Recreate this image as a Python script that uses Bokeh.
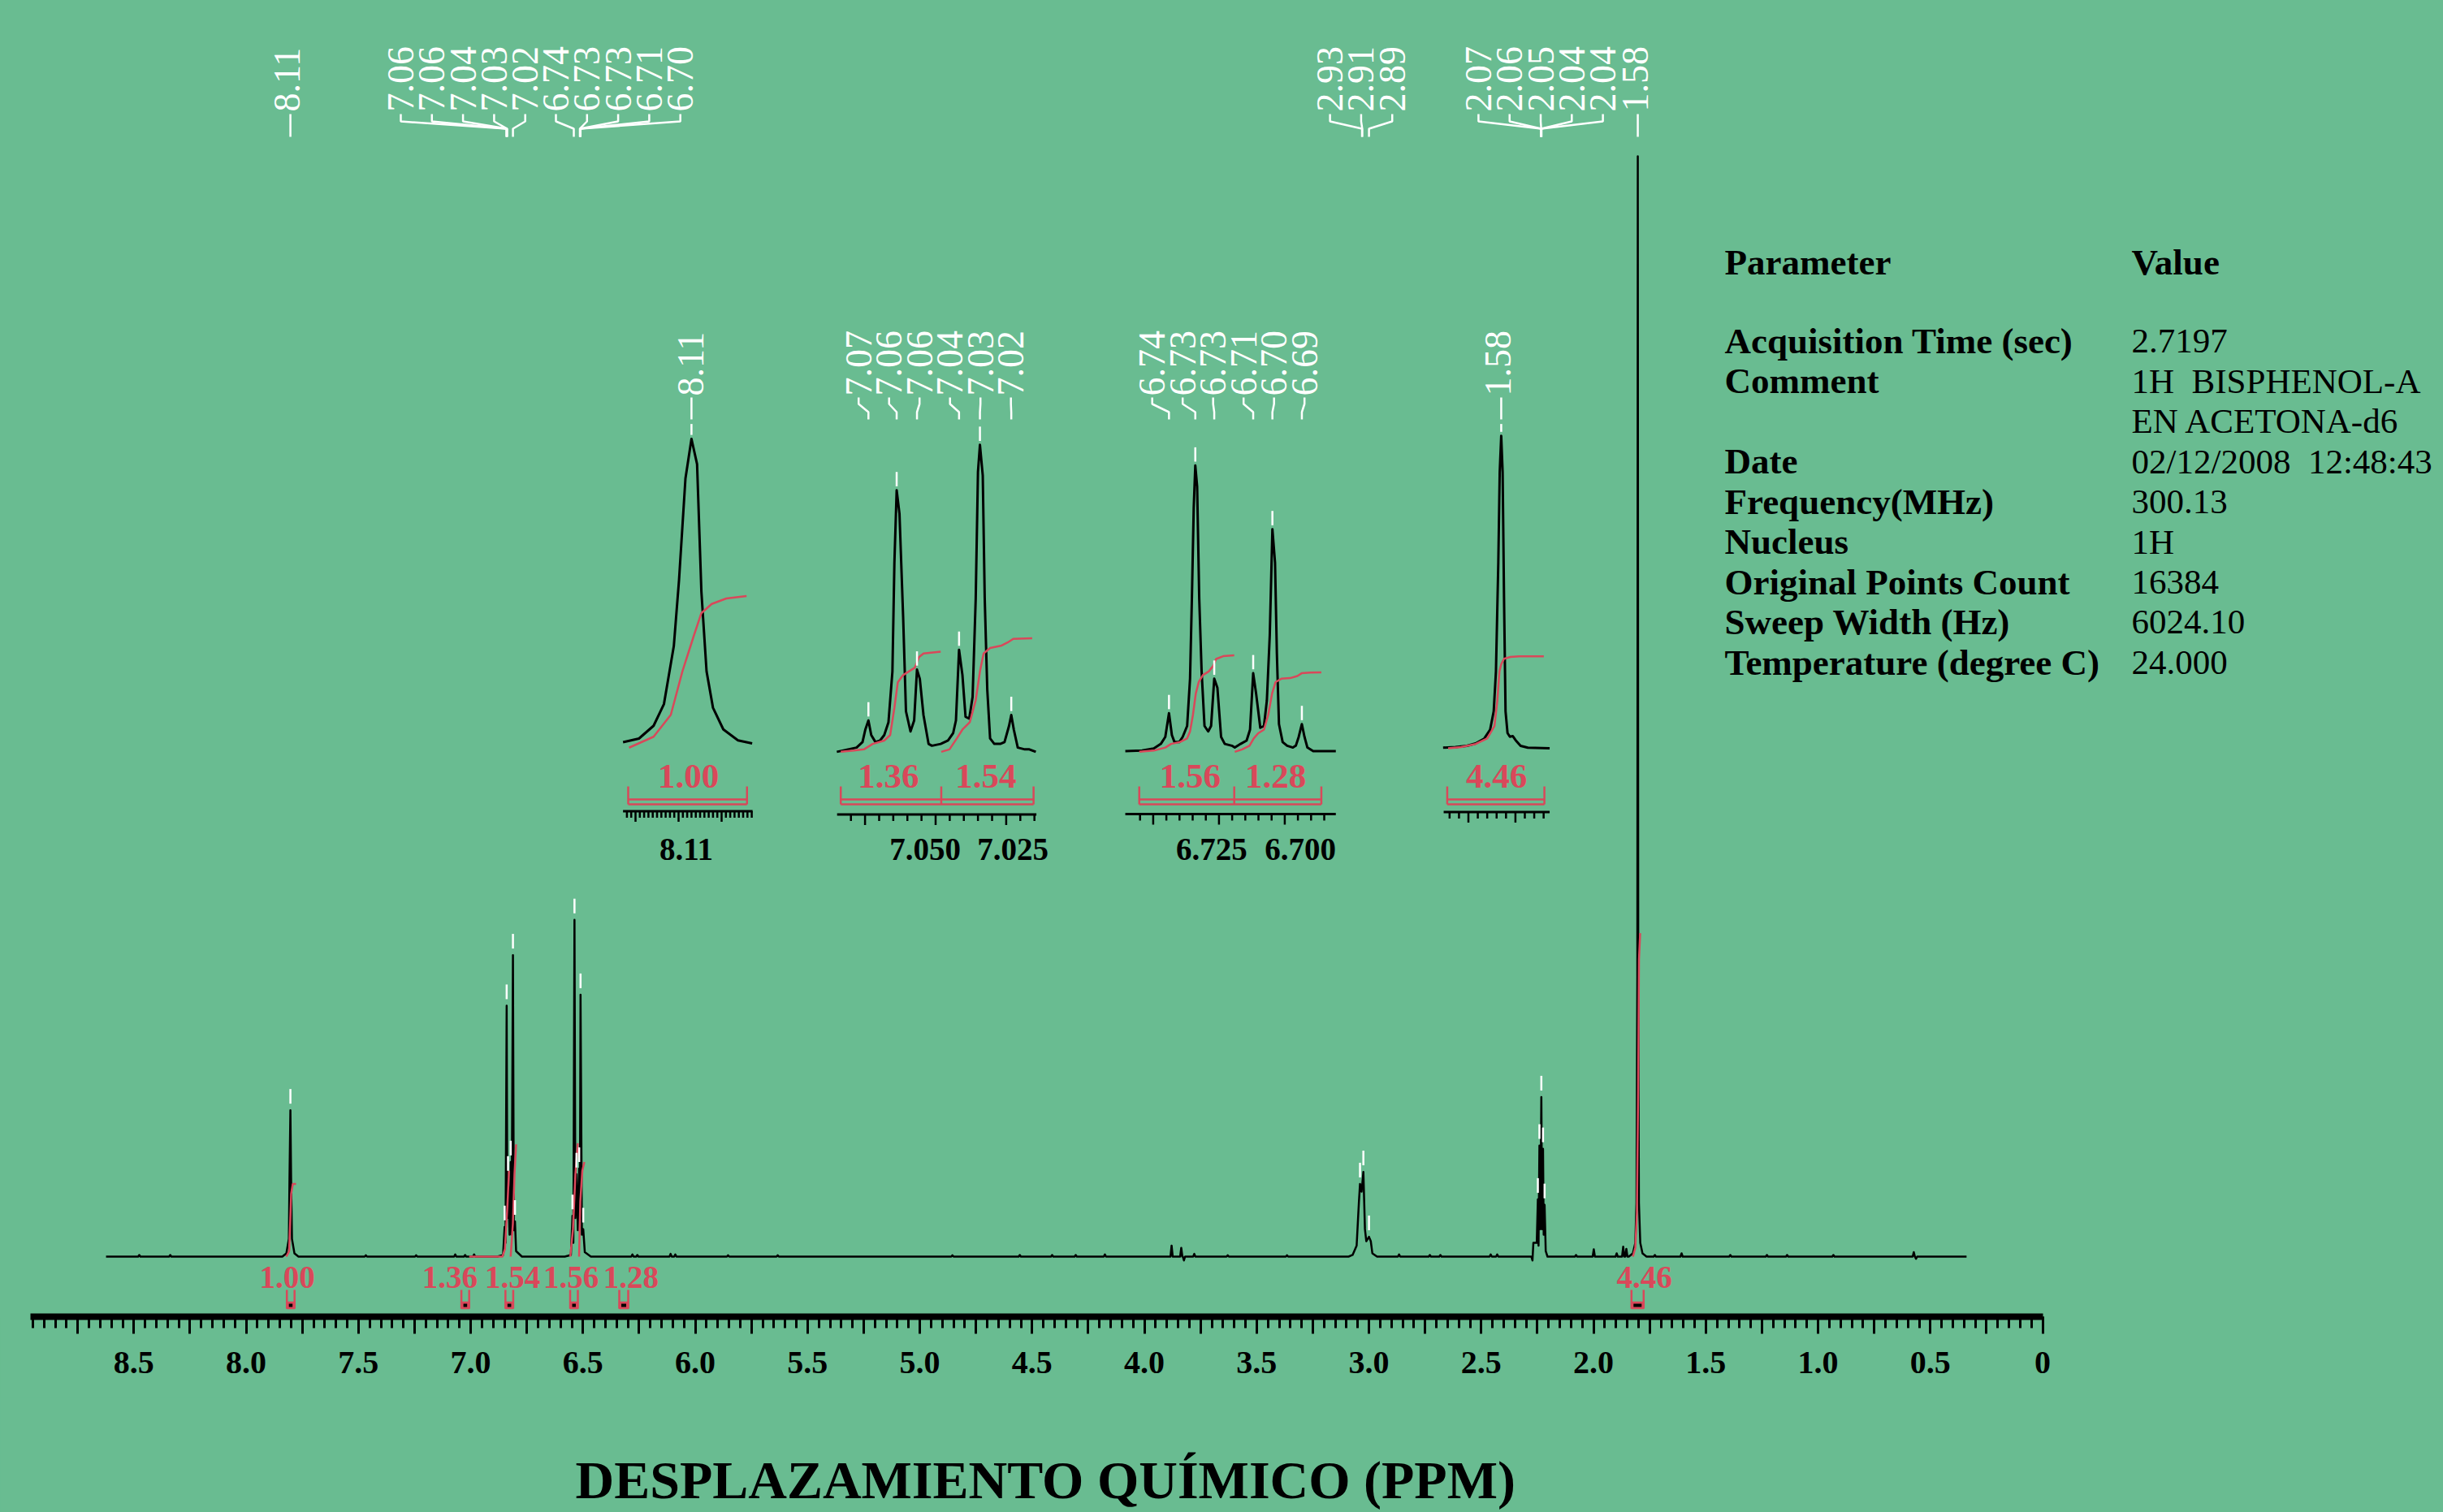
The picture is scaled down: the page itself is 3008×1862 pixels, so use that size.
import numpy as np
from math import pi
from bokeh.plotting import figure
from bokeh.layouts import column
from bokeh.models import Range1d, FixedTicker, CustomJSTickFormatter
from bokeh.core.properties import value
from bokeh.embed import file_html
from bokeh.resources import INLINE

# ---------------- colours & fonts ----------------
BG = "#69bc91"
RED = "#d9485a"
WHITE = "#ffffff"
INK = "#000000"
SERIF = "Liberation Serif"

# ---------------- main spectrum (ppm on the drawn axis, relative intensity %) ----------------
spectrum_start, spectrum_end = 8.624, 0.339
grp_811_ppm = [7.839, 7.821, 7.810, 7.807, 7.803, 7.800, 7.796, 7.785, 7.767]
grp_811_int = [0, 0.3, 1.6, 7.2, 13.3, 7.2, 1.6, 0.3, 0]
grp_706_ppm = [6.881, 6.856, 6.849, 6.845, 6.840, 6.837, 6.834, 6.827, 6.822, 6.818, 6.812, 6.808, 6.803, 6.798, 6.772]
grp_706_int = [0, 0.15, 2.7, 1.25, 22.8, 3.5, 7.2, 2.0, 8.6, 2.0, 27.4, 2.4, 3.2, 0.5, 0]
grp_673_ppm = [6.581, 6.554, 6.547, 6.543, 6.538, 6.534, 6.529, 6.523, 6.517, 6.514, 6.511, 6.505, 6.499, 6.492, 6.465]
grp_673_int = [0, 0.15, 3.7, 1.25, 30.6, 3.5, 7.5, 2.4, 8.0, 3.4, 23.8, 2.0, 2.5, 0.4, 0]
grp_293_ppm = [3.091, 3.073, 3.055, 3.045, 3.040, 3.033, 3.025, 3.018, 3.012, 3.000, 2.992, 2.985, 2.964]
grp_293_int = [0, 0.15, 1.0, 4.9, 6.6, 5.9, 7.7, 2.5, 1.4, 1.8, 1.4, 0.3, 0]
grp_207_ppm = [2.277, 2.272, 2.268, 2.253, 2.248, 2.245, 2.241, 2.237, 2.2325, 2.229, 2.225, 2.222, 2.218, 2.213, 2.205]
grp_207_int = [0, -0.35, 1.25, 1.25, 5.2, 1.0, 10.1, 2.5, 14.5, 2.5, 9.8, 2.0, 4.7, 0.5, 0]
grp_158_ppm = [1.843, 1.825, 1.814, 1.809, 1.805, 1.803, 1.801, 1.798, 1.792, 1.782, 1.764]
grp_158_int = [0, 0.3, 1.25, 4.9, 25.5, 100, 25.5, 4.9, 1.25, 0.3, 0]
noise_ppm = [8.476, 8.338, 7.467, 7.243, 7.069, 7.025, 6.985, 6.280, 6.258, 6.110, 6.089, 5.854,
             5.633, 4.855, 4.555, 4.411, 4.306, 4.176, 3.879, 3.836, 3.824, 3.778, 3.629, 3.365,
             2.866, 2.729, 2.682, 2.458, 2.429, 2.078, 1.999, 1.897, 1.868, 1.854, 1.727, 1.608,
             1.391, 1.228, 1.138, 0.932, 0.574, 0.564]
noise_int = [0.15, 0.15, 0.12, 0.12, 0.2, 0.15, 0.2, 0.2, 0.15, 0.25, 0.2, 0.12,
             0.12, 0.12, 0.15, 0.15, 0.15, 0.2, 1.0, 0.8, -0.35, 0.25, 0.12, 0.12,
             0.2, 0.15, 0.15, 0.2, 0.2, 0.15, 0.66, 0.3, 0.9, 0.7, 0.15, 0.3,
             0.15, 0.15, 0.15, 0.15, 0.4, -0.2]

# integrals
integral_values = [1.00, 1.36, 1.54, 1.56, 1.28, 4.46]
int_curve_ppm = [[7.8213, 7.8087, 7.8033, 7.7996, 7.7924, 7.7779],
                 [7.0069, 6.8586, 6.8477, 6.8369, 6.8296],
                 [6.8221, 6.8123, 6.8051, 6.7979],
                 [6.5566, 6.5447, 6.5338, 6.5230],
                 [6.5175, 6.5121, 6.5031, 6.4940],
                 [1.8249, 1.8141, 1.8069, 1.8014, 1.7978, 1.7924]]
int_curve_val = [[0, 0.5, 3.5, 5.7, 6.6, 6.6],
                 [0, 0, 0.7, 4.5, 7.8],
                 [0, 3.0, 7.5, 10.2],
                 [0, 2.5, 7.5, 10.3],
                 [0, 5.0, 7.8, 8.6],
                 [0, 0.8, 4.0, 15.0, 27.0, 29.4]]
bracket_from = [7.8188, 7.0416, 6.8455, 6.5573, 6.3385, 1.8311]
bracket_to = [7.7845, 7.0069, 6.8108, 6.5230, 6.2987, 1.7769]
bracket_label_x = [7.8174, 7.0926, 6.8141, 6.5537, 6.2861, 1.7743]

# peak picking labels
top_label_text = [["8.11"], ["7.06", "7.06", "7.04", "7.03", "7.02"],
                  ["6.74", "6.73", "6.73", "6.71", "6.70"], ["2.93", "2.91", "2.89"],
                  ["2.07", "2.06", "2.05", "2.04", "2.04"], ["1.58"]]
top_label_peak = [[7.803], [6.841, 6.840, 6.839, 6.838, 6.812], [6.541, 6.514, 6.513, 6.512, 6.511],
                  [3.031, 3.030, 3.000], [2.234, 2.2335, 2.233, 2.2325, 2.232], [1.803]]
top_label_center = [7.8174, 7.0344, 6.3436, 3.035, 2.2354, 1.8141]
marker_ppm = [7.803, 6.849, 6.840, 6.834, 6.822, 6.812, 6.803, 6.547, 6.538, 6.529, 6.517, 6.511,
              6.499, 3.040, 3.025, 3.000, 2.248, 2.241, 2.2325, 2.225, 2.218]
marker_top = [13.3, 2.7, 22.8, 7.2, 8.6, 27.4, 3.2, 3.7, 30.6, 7.5, 8.0, 23.8,
              2.5, 6.6, 7.7, 1.8, 5.2, 10.1, 14.5, 9.8, 4.7]

# acquisition parameters
param_header = ["Parameter", "Value"]
param_names = ["Acquisition Time (sec)", "Comment", "", "Date", "Frequency(MHz)", "Nucleus",
               "Original Points Count", "Sweep Width (Hz)", "Temperature (degree C)"]
param_values = ["2.7197", "1H\u00a0 BISPHENOL-A", "EN ACETONA-d6", "02/12/2008\u00a0 12:48:43", "300.13",
                "1H", "16384", "6024.10", "24.000"]
axis_title = "DESPLAZAMIENTO QUÍMICO (PPM)"

# ---------------- inset data (local ppm, local intensity) ----------------
inset1_ppm = [8.1229, 8.1192, 8.1158, 8.1134, 8.1111, 8.1099, 8.1084, 8.1070, 8.1057, 8.1047, 8.1035,
              8.1020, 8.0996, 8.0962, 8.0929]
inset1_int = [0.4, 1.6, 5.8, 12.9, 32.0, 53.5, 87.0, 100.0, 91.7, 49.9, 23.7, 11.7, 4.6, 1.0, 0.0]
inset1_ig_ppm = [8.1215, 8.1158, 8.1118, 8.1091, 8.1064, 8.1047, 8.1023, 8.0989, 8.0942]
inset1_ig_int = [-1.4, 2.2, 9.4, 23.7, 35.6, 42.8, 45.8, 47.6, 48.4]

inset2_ppm = [7.0850, 7.0810, 7.0780, 7.0759, 7.0749, 7.0738, 7.0728, 7.0713, 7.0697, 7.0682, 7.0667,
              7.0653, 7.0646, 7.0638, 7.0628, 7.0615, 7.0605, 7.0589, 7.0576, 7.0566, 7.0556, 7.0543,
              7.0525, 7.0513, 7.0482, 7.0456, 7.0438, 7.0428, 7.0417, 7.0405, 7.0394, 7.0381, 7.0369,
              7.0358, 7.0350, 7.0343, 7.0333, 7.0326, 7.0317, 7.0307, 7.0292, 7.0271, 7.0256, 7.0240,
              7.0232, 7.0223, 7.0209, 7.0184, 7.0168, 7.0145]
inset2_int = [-0.2, 0.6, 1.2, 3.0, 7.1, 10.1, 5.3, 3.0, 3.5, 5.3, 9.5, 26.2, 61.9, 85.7, 78.0, 44.0,
              13.1, 6.5, 10.1, 26.8, 23.8, 11.9, 2.4, 1.8, 2.4, 3.5, 5.9, 10.1, 33.3, 25.0, 11.3, 10.7,
              17.8, 50.0, 91.7, 100.6, 90.5, 50.0, 20.2, 4.2, 2.4, 2.4, 3.0, 8.3, 11.9, 7.1, 1.2, 0.6,
              0.6, -0.2]
inset2_ig1_ppm = [7.0836, 7.0790, 7.0754, 7.0723, 7.0682, 7.0661, 7.0646, 7.0634, 7.0615, 7.0595,
                  7.0574, 7.0559, 7.0543, 7.0482]
inset2_ig1_int = [-0.2, 0.2, 0.6, 2.4, 3.5, 5.3, 14.3, 22.6, 25.0, 26.2, 27.4, 30.9, 32.1, 32.7]
inset2_ig2_ppm = [7.0480, 7.0451, 7.0425, 7.0405, 7.0379, 7.0358, 7.0343, 7.0330, 7.0307, 7.0266,
                  7.0245, 7.0225, 7.0158]
inset2_ig2_int = [-0.2, 0.6, 4.2, 7.1, 9.5, 16.7, 26.2, 32.1, 33.9, 34.7, 35.7, 36.9, 37.1]

inset3_ppm = [6.7606, 6.7542, 6.7498, 6.7471, 6.7454, 6.7440, 6.7429, 6.7419, 6.7401, 6.7388, 6.7371,
              6.7360, 6.7353, 6.7346, 6.7340, 6.7333, 6.7325, 6.7316, 6.7305, 6.7291, 6.7280, 6.7268,
              6.7256, 6.7242, 6.7228, 6.7201, 6.7190, 6.7168, 6.7145, 6.7132, 6.7120, 6.7109, 6.7093,
              6.7079, 6.7068, 6.7057, 6.7047, 6.7037, 6.7030, 6.7022, 6.7008, 6.6991, 6.6969, 6.6958,
              6.6947, 6.6935, 6.6925, 6.6914, 6.6892, 6.6806]
inset3_int = [0.0, 0.2, 0.9, 2.4, 4.7, 12.5, 5.3, 3.0, 3.0, 4.7, 8.3, 23.8, 50.0, 79.8, 93.8, 86.9,
              50.0, 26.2, 8.3, 6.5, 8.3, 23.8, 20.8, 4.7, 2.4, 1.8, 1.2, 2.4, 3.5, 7.1, 25.6, 19.0,
              7.7, 8.3, 16.7, 38.1, 72.9, 61.9, 32.1, 8.9, 3.0, 1.8, 1.2, 1.8, 4.7, 8.9, 4.7, 1.2,
              0.0, 0.0]
inset3_ig1_ppm = [6.7553, 6.7498, 6.7454, 6.7432, 6.7399, 6.7371, 6.7360, 6.7349, 6.7338, 6.7327,
                  6.7311, 6.7289, 6.7272, 6.7261, 6.7234, 6.7192]
inset3_ig1_int = [-0.2, 0.2, 1.2, 2.4, 3.0, 4.2, 6.5, 11.9, 19.0, 22.7, 25.0, 26.2, 28.0, 30.3, 31.2, 31.5]
inset3_ig2_ppm = [6.7190, 6.7162, 6.7134, 6.7118, 6.7101, 6.7079, 6.7063, 6.7048, 6.7035, 6.7013,
                  6.6980, 6.6952, 6.6936, 6.6903, 6.6861]
inset3_ig2_int = [-0.2, 0.6, 1.8, 4.2, 5.9, 7.1, 11.9, 19.0, 22.7, 23.8, 24.0, 24.7, 25.6, 25.8, 25.9]

inset4_ppm = [1.58769, 1.58639, 1.58516, 1.58423, 1.58331, 1.58269, 1.58231, 1.58207, 1.58182, 1.58167,
              1.58151, 1.58136, 1.58121, 1.58105, 1.58084, 1.58059, 1.58029, 1.57997, 1.57945, 1.57868,
              1.57636]
inset4_int = [0, 0.2, 0.6, 1.4, 3.0, 5.9, 11.9, 25.1, 60.7, 90.5, 102.4, 90.5, 48.8, 11.9, 4.8, 3.6,
              3.8, 2.4, 0.6, 0, -0.2]
inset4_ig_ppm = [1.58716, 1.58577, 1.58423, 1.58300, 1.58223, 1.58192, 1.58170, 1.58151, 1.58121,
                 1.58053, 1.57960, 1.57837, 1.57698]
inset4_ig_int = [-0.2, 0.2, 1.2, 3.0, 7.1, 15.5, 25.1, 27.4, 29.2, 29.8, 30.0, 30.0, 30.0]

insets = [
    dict(ref_ppm=8.110, ref_x=835.0, px_per_ppm=5300.0, base_y=915.0, axis_y=998.5,
         curve=(inset1_ppm, inset1_int), integrals=[(inset1_ig_ppm, inset1_ig_int)],
         edges=[8.1217, 8.0941], integ_vals=[integral_values[0]], integ_x=[8.1077],
         axis=(8.1229, 8.0928), minor=(8.093, 8.122, 0.001), major=[8.12, 8.11, 8.10],
         tick_text=["8.11"], tick_x=[8.1082],
         top_text=["8.11"], top_center=8.1072, top_peaks=[8.1070],
         peaks=[(8.1070, 100.0)]),
    dict(ref_ppm=7.050, ref_x=1151.5, px_per_ppm=3476.0, base_y=924.6, axis_y=1002.5,
         curve=(inset2_ppm, inset2_int),
         integrals=[(inset2_ig1_ppm, inset2_ig1_int), (inset2_ig2_ppm, inset2_ig2_int)],
         edges=[7.0836, 7.0480, 7.0153], integ_vals=[integral_values[1], integral_values[2]],
         integ_x=[7.0667, 7.0322],
         axis=(7.0849, 7.0143), minor=(7.015, 7.080, 0.005), major=[7.075, 7.050, 7.025],
         tick_text=["7.050", "7.025"], tick_x=[7.0537, 7.0226],
         top_text=["7.07", "7.06", "7.06", "7.04", "7.03", "7.02"], top_center=7.0503,
         top_peaks=[7.0738, 7.0638, 7.0566, 7.0417, 7.0343, 7.0232],
         peaks=[(7.0738, 10.1), (7.0638, 85.7), (7.0566, 26.8), (7.0417, 33.3), (7.0343, 100.6), (7.0232, 11.9)]),
    dict(ref_ppm=6.725, ref_x=1500.4, px_per_ppm=3240.0, base_y=924.6, axis_y=1002.0,
         curve=(inset3_ppm, inset3_int),
         integrals=[(inset3_ig1_ppm, inset3_ig1_int), (inset3_ig2_ppm, inset3_ig2_int)],
         edges=[6.7553, 6.7192, 6.6861], integ_vals=[integral_values[3], integral_values[4]],
         integ_x=[6.7360, 6.7035],
         axis=(6.7606, 6.6806), minor=(6.685, 6.755, 0.005), major=[6.750, 6.725, 6.700],
         tick_text=["6.725", "6.700"], tick_x=[6.7278, 6.6941],
         top_text=["6.74", "6.73", "6.73", "6.71", "6.70", "6.69"], top_center=6.72144,
         top_peaks=[6.7440, 6.7340, 6.7268, 6.7120, 6.7047, 6.6935],
         peaks=[(6.7440, 12.5), (6.7340, 93.8), (6.7268, 23.8), (6.7120, 25.6), (6.7047, 72.9), (6.6935, 8.9)]),
    dict(ref_ppm=1.585, ref_x=1807.5, px_per_ppm=11580.0, base_y=920.2, axis_y=999.5,
         curve=(inset4_ppm, inset4_int), integrals=[(inset4_ig_ppm, inset4_ig_int)],
         edges=[1.58725, 1.57692], integ_vals=[integral_values[5]], integ_x=[1.58201],
         axis=(1.58763, 1.57636), minor=(1.577, 1.587, 0.001), major=[1.585, 1.580],
         tick_text=[], tick_x=[],
         top_text=["1.58"], top_center=1.58185, top_peaks=[1.58151],
         peaks=[(1.58151, 102.4)]),
]

# ---------------- layout helpers (page pixel -> main data) ----------------
X0_PAGE, PX_PER_PPM = 2514.6, 276.5
Y0_PAGE, PX_PER_UNIT = 1547.0, 13.55
PAGE_W, PAGE_H = 3008, 1862
FRAME_BOTTOM = 1621
MAIN_H = 1721


def ppm_at(xp):
    return (X0_PAGE - xp) / PX_PER_PPM


def int_at(yp):
    return (Y0_PAGE - yp) / PX_PER_UNIT


p = figure(width=PAGE_W, height=MAIN_H, output_backend="svg", toolbar_location=None,
           x_range=Range1d(ppm_at(0), ppm_at(PAGE_W)), y_range=Range1d(int_at(FRAME_BOTTOM), int_at(0)),
           y_axis_location=None, x_axis_location="below",
           min_border_left=0, min_border_right=0, min_border_top=0,
           min_border_bottom=MAIN_H - FRAME_BOTTOM,
           background_fill_color=BG, border_fill_color=BG,
           outline_line_color=BG, outline_line_width=3)
p.grid.visible = False

# ---- x axis ----
ax = p.xaxis[0]
ax.ticker = FixedTicker(ticks=[round(0.25 * k, 2) for k in range(36)],
                        minor_ticks=[round(0.05 * k, 2) for k in range(180)])
ax.formatter = CustomJSTickFormatter(code="""
    const h = Math.round(tick * 2);
    if (Math.abs(tick * 2 - h) > 1e-6) { return ""; }
    if (Math.abs(tick) < 1e-9) { return "0"; }
    return tick.toFixed(1);
""")
ax.bounds = (0, 8.96)
ax.axis_line_width = 8
ax.axis_line_color = INK
ax.major_tick_out = 21
ax.major_tick_in = 0
ax.minor_tick_out = 14
ax.minor_tick_in = 0
ax.major_tick_line_width = 3
ax.minor_tick_line_width = 3
ax.major_tick_line_color = INK
ax.minor_tick_line_color = INK
ax.major_label_standoff = 22
ax.major_label_text_font = SERIF
ax.major_label_text_font_style = "bold"
ax.major_label_text_font_size = "40px"
ax.major_label_text_color = INK

# ---- main spectrum ----
groups = [(grp_811_ppm, grp_811_int), (grp_706_ppm, grp_706_int), (grp_673_ppm, grp_673_int),
          (grp_293_ppm, grp_293_int), (grp_207_ppm, grp_207_int), (grp_158_ppm, grp_158_int)]
features = [list(zip(gx, gy)) for gx, gy in groups]
HW = 0.005
for nx, ny in zip(noise_ppm, noise_int):
    features.append([(nx + HW, 0.0), (nx, ny), (nx - HW, 0.0)])
features.sort(key=lambda f: -f[0][0])
spec_x, spec_y = [spectrum_start], [0.0]
for f in features:
    for fx, fy in f:
        spec_x.append(fx)
        spec_y.append(fy)
spec_x.append(spectrum_end)
spec_y.append(0.0)
p.line(spec_x, spec_y, line_color=INK, line_width=2.5, line_join="round")

# ---- main integrals ----
p.multi_line(xs=int_curve_ppm, ys=int_curve_val, line_color=RED, line_width=2.5)
b_top, b_bot, b_fill = int_at(1588), int_at(1611), int_at(1603)
p.segment(x0=bracket_from + bracket_to, y0=[b_top] * 12, x1=bracket_from + bracket_to, y1=[b_bot] * 12,
          line_color=RED, line_width=2.5)
p.quad(left=bracket_from, right=bracket_to, top=[b_fill] * 6, bottom=[b_bot] * 6,
       fill_color=RED, line_color=RED, line_width=1.5)
pin = 2.5 / PX_PER_PPM
p.quad(left=[a - pin for a in bracket_from], right=[b + pin for b in bracket_to],
       top=[int_at(1605)] * 6, bottom=[int_at(1609)] * 6, fill_color=INK, line_color=None)
p.text(x=bracket_label_x, y=[int_at(1572)] * 6, text=[f"{v:.2f}" for v in integral_values],
       text_align="center", text_baseline="middle", text_font=value(SERIF), text_font_style="bold",
       text_font_size="39px", text_color=RED)

# ---- peak markers ----
p.segment(x0=marker_ppm, y0=[t + 0.6 for t in marker_top], x1=marker_ppm, y1=[t + 1.93 for t in marker_top],
          line_color=WHITE, line_width=2.5)

# ---- peak labels on top ----
STEP = 38.3 / PX_PER_PPM
y_txt, y_ls0, y_ls1, y_dg, y_pk = int_at(137), int_at(140), int_at(149), int_at(158), int_at(168)
lab_x, lab_t, con_xs, con_ys = [], [], [], []
for texts, peaks, c in zip(top_label_text, top_label_peak, top_label_center):
    n = len(texts)
    if n == 1:
        lab_x.append(c)
        lab_t.append(texts[0])
        con_xs.append([peaks[0], peaks[0]])
        con_ys.append([y_ls0, y_pk])
        continue
    for i, (t, pk) in enumerate(zip(texts, peaks)):
        xl = c + ((n - 1) / 2 - i) * STEP
        lab_x.append(xl)
        lab_t.append(t)
        con_xs.append([xl, xl, pk, pk])
        con_ys.append([y_ls0, y_ls1, y_dg, y_pk])
p.multi_line(xs=con_xs, ys=con_ys, line_color=WHITE, line_width=2.5)
p.text(x=lab_x, y=[y_txt] * len(lab_x), text=lab_t, angle=pi / 2, text_align="left",
       text_baseline="middle", text_font=value(SERIF), text_font_size="46px", text_color=WHITE)

# ---- parameter table ----
px_name, px_val = ppm_at(2123), ppm_at(2624)
row_y = [int_at(419 + 49.5 * k) for k in range(len(param_names))]
p.text(x=[px_name, px_val], y=[int_at(322)] * 2, text=param_header, text_font=value(SERIF),
       text_font_style="bold", text_font_size="45px", text_color=INK, text_baseline="alphabetic")
p.text(x=[px_name] * len(param_names), y=row_y, text=param_names, text_font=value(SERIF),
       text_font_style="bold", text_font_size="45px", text_color=INK, text_baseline="alphabetic")
p.text(x=[px_val] * len(param_values), y=row_y, text=param_values, text_font=value(SERIF),
       text_font_style="normal", text_font_size="43px", text_color=INK, text_baseline="alphabetic")

# ---- insets ----
UNIT = 3.75
for ins in insets:
    ppp, rx, rp, base = ins["px_per_ppm"], ins["ref_x"], ins["ref_ppm"], ins["base_y"]
    d = 0.05
    sub = p.subplot(
        x_source=Range1d(rp + d, rp - d),
        x_target=Range1d(ppm_at(rx - d * ppp), ppm_at(rx + d * ppp)),
        y_source=Range1d(0, 100),
        y_target=Range1d(int_at(base), int_at(base - 100 * UNIT)),
    )

    def ly(yp, base=base):
        return (base - yp) / UNIT

    cx, cy = ins["curve"]
    sub.line(cx, cy, line_color=INK, line_width=3, line_join="round")
    sub.multi_line(xs=[g[0] for g in ins["integrals"]], ys=[g[1] for g in ins["integrals"]],
                   line_color=RED, line_width=2.5)
    # peak markers
    pk_bot = ly(516)
    mx = [q[0] for q in ins["peaks"]]
    my0 = [q[1] + 1.3 for q in ins["peaks"]]
    my1 = [min(q[1] + 6.0, pk_bot - 1.5) for q in ins["peaks"]]
    sub.segment(x0=mx, y0=my0, x1=mx, y1=my1, line_color=WHITE, line_width=2.5)
    # top labels
    n = len(ins["top_text"])
    step = 37.5 / ppp
    txs, cxs, cys = [], [], []
    for i, pk in enumerate(ins["top_peaks"]):
        if n == 1:
            txs.append(ins["top_center"])
            cxs.append([pk, pk])
            cys.append([ly(489), ly(516)])
        else:
            xl = ins["top_center"] + ((n - 1) / 2 - i) * step
            txs.append(xl)
            cxs.append([xl, xl, pk, pk])
            cys.append([ly(489), ly(497), ly(507), ly(516)])
    sub.multi_line(xs=cxs, ys=cys, line_color=WHITE, line_width=2.5)
    sub.text(x=txs, y=[ly(487)] * n, text=ins["top_text"], angle=pi / 2, text_align="left",
             text_baseline="middle", text_font=value(SERIF), text_font_size="46px", text_color=WHITE)
    # integral brackets
    e = ins["edges"]
    sub.segment(x0=e, y0=[ly(968)] * len(e), x1=e, y1=[ly(990)] * len(e), line_color=RED, line_width=2.5)
    sub.segment(x0=[e[0], e[0]], y0=[ly(984), ly(990)], x1=[e[-1], e[-1]], y1=[ly(984), ly(990)],
                line_color=RED, line_width=2.5)
    sub.text(x=ins["integ_x"], y=[ly(955)] * len(ins["integ_x"]),
             text=[f"{v:.2f}" for v in ins["integ_vals"]], text_align="center", text_baseline="middle",
             text_font=value(SERIF), text_font_style="bold", text_font_size="43px", text_color=RED)
    # inset axis
    ay = ins["axis_y"]
    a0, a1 = ins["axis"]
    sub.line([a0, a1], [ly(ay), ly(ay)], line_color=INK, line_width=3)
    m0, m1, ms = ins["minor"]
    minor = [round(t, 4) for t in np.arange(m0, m1 + ms / 2, ms)]
    minor = [t for t in minor if all(abs(t - m) > 1e-7 for m in ins["major"])]
    sub.segment(x0=minor, y0=[ly(ay)] * len(minor), x1=minor, y1=[ly(ay + 8)] * len(minor),
                line_color=INK, line_width=2.5)
    mj = ins["major"]
    sub.segment(x0=mj, y0=[ly(ay)] * len(mj), x1=mj, y1=[ly(ay + 13)] * len(mj),
                line_color=INK, line_width=2.5)
    if ins["tick_text"]:
        sub.text(x=ins["tick_x"], y=[ly(1045)] * len(ins["tick_x"]), text=ins["tick_text"],
                 text_align="center", text_baseline="middle", text_font=value(SERIF),
                 text_font_style="bold", text_font_size="39px", text_color=INK)

# ---- axis title strip (shares the x scale of the spectrum) ----
p2 = figure(width=PAGE_W, height=PAGE_H - MAIN_H, output_backend="svg", toolbar_location=None,
            x_range=p.x_range, y_range=Range1d(PAGE_H, MAIN_H),
            x_axis_location=None, y_axis_location=None,
            min_border_left=0, min_border_right=0, min_border_top=0, min_border_bottom=0,
            background_fill_color=BG, border_fill_color=BG, outline_line_color=None)
p2.grid.visible = False
p2.text(x=[ppm_at(708)], y=[1822], text=[axis_title], text_align="left", text_baseline="middle",
        text_font=value(SERIF), text_font_style="bold", text_font_size="66px", text_color=INK)

layout = column(p, p2, spacing=0, styles={"background-color": BG})
open("out.html", "w").write(file_html(layout, INLINE))
